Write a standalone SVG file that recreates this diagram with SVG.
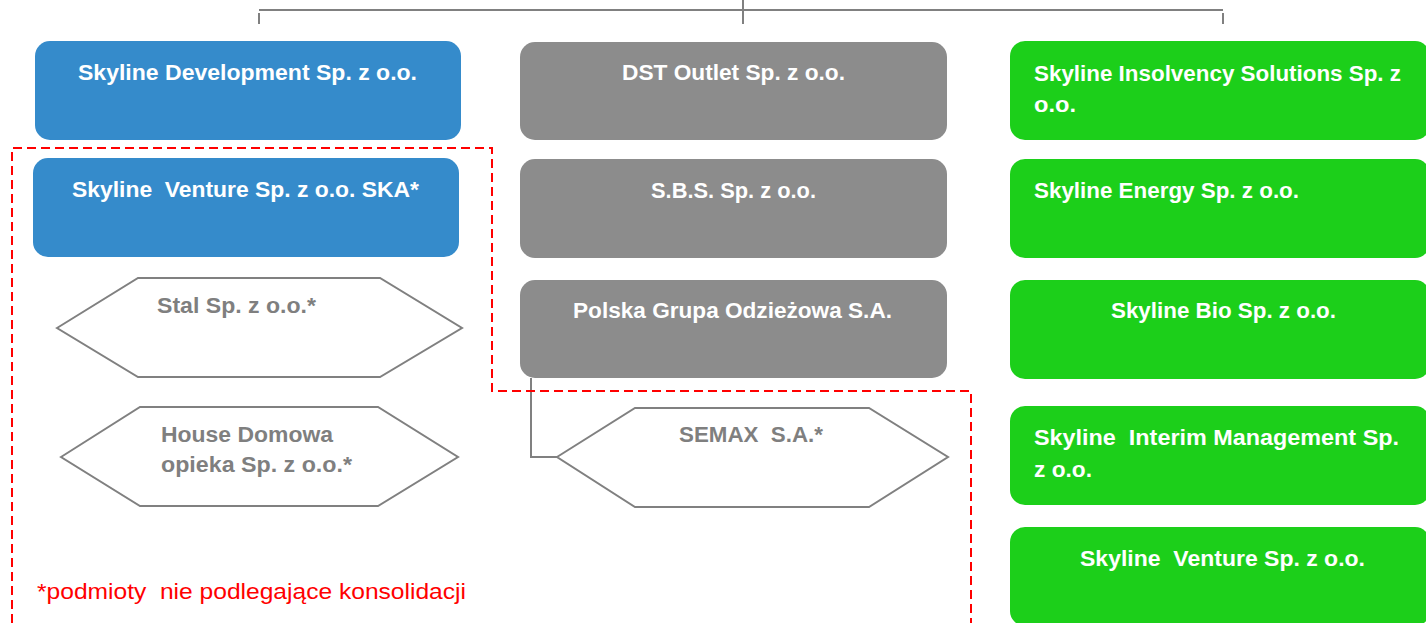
<svg xmlns="http://www.w3.org/2000/svg" width="1426" height="623" viewBox="0 0 1426 623">
<style>
text{white-space:pre}
.t{font-family:"Liberation Sans",Arial,sans-serif;font-weight:bold;font-size:22px;fill:#ffffff}
.g{font-family:"Liberation Sans",Arial,sans-serif;font-weight:bold;font-size:22px;fill:#7f7f7f}
.blue{fill:#358bcb}
.gray{fill:#8c8c8c}
.green{fill:#1ccf1a}
.hex{fill:#ffffff;stroke:#808080;stroke-width:2}
.conn{fill:none;stroke:#808080;stroke-width:2}
.dash{fill:none;stroke:#ff0000;stroke-width:2;stroke-dasharray:9 5}
.note{font-family:"Liberation Sans",Arial,sans-serif;font-size:22px;fill:#ff0000}
</style>
<rect width="1426" height="623" fill="#ffffff"/>
<g id="connectors">
<path class="conn" d="M259 10 H1223 M743 0 V24 M259 13 V24 M1223 13 V24"/>
<path class="conn" d="M531 378 V457 H557"/>
</g>
<g id="skyline-development"><rect class="blue" x="35" y="41" width="426" height="99" rx="15"/><text class="t" x="78" y="80" textLength="339" lengthAdjust="spacingAndGlyphs">Skyline Development Sp. z o.o.</text></g>
<g id="skyline-venture-ska"><rect class="blue" x="33" y="158" width="426" height="99" rx="15"/><text class="t" xml:space="preserve" x="72" y="197" textLength="347" lengthAdjust="spacingAndGlyphs">Skyline  Venture Sp. z o.o. SKA*</text></g>
<g id="stal"><polygon class="hex" points="57,328 138,278 380,278 462,328 380,377 138,377"/><text class="g" x="157" y="313" textLength="159" lengthAdjust="spacingAndGlyphs">Stal Sp. z o.o.*</text></g>
<g id="house-domowa"><polygon class="hex" points="61,457 140,407 378,407 458,457 378,506 140,506"/><text class="g" x="161" y="442" textLength="172" lengthAdjust="spacingAndGlyphs">House Domowa</text><text class="g" x="161" y="472" textLength="191" lengthAdjust="spacingAndGlyphs">opieka Sp. z o.o.*</text></g>
<g id="dst-outlet"><rect class="gray" x="520" y="42" width="427" height="98" rx="15"/><text class="t" x="622" y="80" textLength="223" lengthAdjust="spacingAndGlyphs">DST Outlet Sp. z o.o.</text></g>
<g id="sbs"><rect class="gray" x="520" y="159" width="427" height="99" rx="15"/><text class="t" x="651" y="198" textLength="165" lengthAdjust="spacingAndGlyphs">S.B.S. Sp. z o.o.</text></g>
<g id="polska-grupa"><rect class="gray" x="520" y="280" width="427" height="98" rx="15"/><text class="t" x="573" y="318" textLength="319" lengthAdjust="spacingAndGlyphs">Polska Grupa Odzieżowa S.A.</text></g>
<g id="semax"><polygon class="hex" points="557,457 635,408 869,408 948,457 869,507 635,507"/><text class="g" xml:space="preserve" x="679" y="442" textLength="144" lengthAdjust="spacingAndGlyphs">SEMAX  S.A.*</text></g>
<g id="insolvency"><rect class="green" x="1010" y="41" width="420" height="99" rx="15"/><text class="t" x="1034" y="81" textLength="367" lengthAdjust="spacingAndGlyphs">Skyline Insolvency Solutions Sp. z</text><text class="t" x="1034" y="112" textLength="42" lengthAdjust="spacingAndGlyphs">o.o.</text></g>
<g id="energy"><rect class="green" x="1010" y="159" width="420" height="99" rx="15"/><text class="t" x="1034" y="198" textLength="265" lengthAdjust="spacingAndGlyphs">Skyline Energy Sp. z o.o.</text></g>
<g id="bio"><rect class="green" x="1010" y="280" width="420" height="99" rx="15"/><text class="t" x="1111" y="318" textLength="225" lengthAdjust="spacingAndGlyphs">Skyline Bio Sp. z o.o.</text></g>
<g id="interim"><rect class="green" x="1010" y="406" width="420" height="99" rx="15"/><text class="t" xml:space="preserve" x="1034" y="445" textLength="365" lengthAdjust="spacingAndGlyphs">Skyline  Interim Management Sp.</text><text class="t" x="1034" y="477" textLength="58" lengthAdjust="spacingAndGlyphs">z o.o.</text></g>
<g id="venture"><rect class="green" x="1010" y="527" width="420" height="99" rx="15"/><text class="t" xml:space="preserve" x="1080" y="566" textLength="285" lengthAdjust="spacingAndGlyphs">Skyline  Venture Sp. z o.o.</text></g>
<g id="consolidation-boundary"><path class="dash" d="M12 623 V148 H492 V391 H971 V623"/></g>
<g id="footnote"><text class="note" xml:space="preserve" x="37" y="599" textLength="429" lengthAdjust="spacingAndGlyphs">*podmioty  nie podlegające konsolidacji</text></g>
</svg>
